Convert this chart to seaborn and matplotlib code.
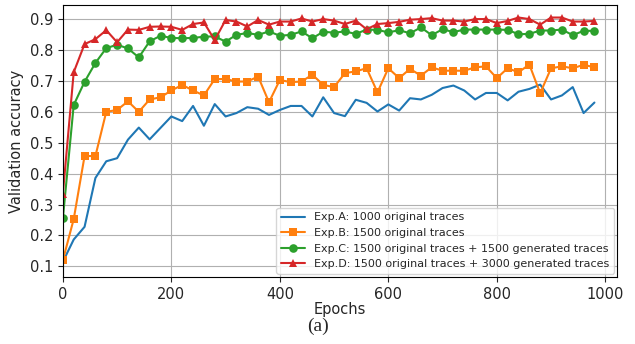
import numpy as np
import pandas as pd
import matplotlib
matplotlib.use("Agg")
import matplotlib.pyplot as plt
import seaborn as sns

# epochs sampled every 20
epochs = np.arange(0, 1000, 20)

acc_a = [0.115, 0.187, 0.228, 0.386, 0.440, 0.450, 0.510, 0.549, 0.511, 0.548, 0.585,
         0.570, 0.619, 0.555, 0.625, 0.585, 0.596, 0.615, 0.610, 0.590, 0.606,
         0.619, 0.619, 0.585, 0.647, 0.596, 0.586, 0.639, 0.629, 0.601, 0.624,
         0.604, 0.644, 0.640, 0.655, 0.677, 0.685, 0.669, 0.640, 0.661, 0.661,
         0.637, 0.665, 0.674, 0.688, 0.640, 0.653, 0.680, 0.596, 0.630]

acc_b = [0.120, 0.253, 0.457, 0.457, 0.600, 0.606, 0.634, 0.600, 0.640, 0.647, 0.669,
         0.687, 0.669, 0.653, 0.706, 0.706, 0.698, 0.698, 0.714, 0.631, 0.703,
         0.696, 0.698, 0.720, 0.687, 0.680, 0.725, 0.731, 0.741, 0.663, 0.741,
         0.709, 0.739, 0.717, 0.744, 0.733, 0.733, 0.733, 0.744, 0.747, 0.709,
         0.741, 0.728, 0.753, 0.660, 0.741, 0.747, 0.741, 0.752, 0.744]

acc_c = [0.255, 0.622, 0.697, 0.758, 0.806, 0.817, 0.805, 0.776, 0.828, 0.846, 0.839,
         0.838, 0.839, 0.843, 0.844, 0.827, 0.849, 0.855, 0.849, 0.860, 0.846,
         0.849, 0.860, 0.838, 0.859, 0.856, 0.860, 0.852, 0.866, 0.865, 0.857,
         0.864, 0.854, 0.873, 0.848, 0.867, 0.858, 0.866, 0.866, 0.866, 0.866,
         0.865, 0.851, 0.852, 0.863, 0.863, 0.866, 0.848, 0.862, 0.862]

acc_d = [0.335, 0.728, 0.819, 0.835, 0.864, 0.825, 0.866, 0.865, 0.875, 0.876, 0.875,
         0.865, 0.884, 0.889, 0.832, 0.897, 0.892, 0.876, 0.897, 0.882, 0.892,
         0.892, 0.902, 0.892, 0.900, 0.895, 0.884, 0.895, 0.867, 0.884, 0.887,
         0.891, 0.898, 0.900, 0.903, 0.895, 0.895, 0.892, 0.900, 0.900, 0.887,
         0.894, 0.905, 0.900, 0.882, 0.905, 0.905, 0.892, 0.892, 0.894]

labels = ["Exp.A: 1000 original traces",
          "Exp.B: 1500 original traces",
          "Exp.C: 1500 original traces + 1500 generated traces",
          "Exp.D: 1500 original traces + 3000 generated traces"]

sns.set_style("whitegrid")
plt.rcParams["font.family"] = ["DejaVu Sans"]

fig = plt.figure(figsize=(6.35, 3.44), dpi=100)
ax = fig.add_axes([0.099, 0.195, 0.873, 0.79])

colors = sns.color_palette("tab10")
series = [(acc_a, None), (acc_b, "s"), (acc_c, "o"), (acc_d, "^")]
for i, (vals, mk) in enumerate(series):
    sns.lineplot(x=epochs, y=vals, ax=ax, color=colors[i], marker=mk,
                 markersize=6.2, markeredgewidth=0, linewidth=1.5,
                 label=labels[i])

ax.set_xlim(0, 1022)
ax.set_ylim(0.066, 0.945)
ax.set_xticks(np.arange(0, 1001, 200))
ax.set_yticks(np.arange(0.1, 0.91, 0.1))
ax.tick_params(labelsize=10.5, length=3.5, left=True, bottom=True)
ax.grid(True, color="#b0b0b0", linewidth=0.8)
for s in ax.spines.values():
    s.set_color("black")
    s.set_linewidth(0.8)
ax.set_xlabel("Epochs", fontsize=10.5, labelpad=0)
ax.set_ylabel("Validation accuracy", fontsize=10.5)
ax.legend(loc="lower right", fontsize=8, framealpha=0.8,
          borderaxespad=0.3, handlelength=2.2)

fig.text(0.5, 0.052, "(a)", ha="center", va="center", fontsize=14,
         family=["Liberation Serif", "DejaVu Serif"])

fig.savefig("out.png", dpi=100)
